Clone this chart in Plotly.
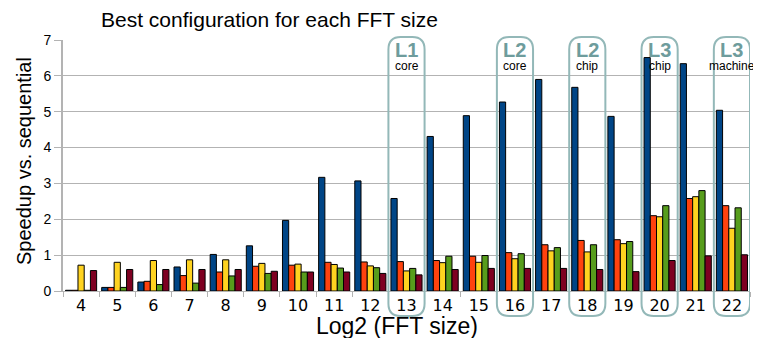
import plotly.graph_objects as go

fft_log2 = list(range(4, 23))
tick_labels = [str(v) for v in fft_log2]

series_blue = [0.02, 0.10, 0.25, 0.67, 1.02, 1.26, 1.97, 3.17, 3.07, 2.58, 4.31, 4.89, 5.27, 5.90, 5.68, 4.87, 6.51, 6.34, 5.04]
series_orange = [0.02, 0.10, 0.27, 0.43, 0.53, 0.69, 0.72, 0.80, 0.81, 0.82, 0.85, 0.97, 1.07, 1.29, 1.41, 1.43, 2.10, 2.58, 2.38]
series_yellow = [0.72, 0.80, 0.85, 0.87, 0.87, 0.77, 0.75, 0.74, 0.70, 0.56, 0.79, 0.80, 0.90, 1.12, 1.09, 1.32, 2.07, 2.63, 1.75]
series_green = [0.02, 0.10, 0.18, 0.22, 0.42, 0.49, 0.53, 0.64, 0.65, 0.63, 0.97, 0.99, 1.04, 1.21, 1.29, 1.38, 2.38, 2.80, 2.32]
series_red = [0.57, 0.60, 0.60, 0.60, 0.60, 0.55, 0.53, 0.53, 0.49, 0.45, 0.60, 0.63, 0.63, 0.63, 0.60, 0.54, 0.85, 0.98, 1.01]

series = [
    ("Series 1", series_blue, "#004586"),
    ("Series 2", series_orange, "#ff420e"),
    ("Series 3", series_yellow, "#ffd320"),
    ("Series 4", series_green, "#579d1c"),
    ("Series 5", series_red, "#7e0021"),
]

highlight_sizes = [13, 16, 18, 20, 22]
highlight_level = ["L1", "L2", "L2", "L3", "L3"]
highlight_scope = ["core", "core", "chip", "chip", "machine"]

fig = go.Figure()
for name, vals, col in series:
    fig.add_trace(go.Bar(
        x=fft_log2, y=vals, name=name,
        marker=dict(color=col, line=dict(color="black", width=1)),
        showlegend=False,
    ))

# page has an 8px body margin; figure is sized so the plot lands where the reference has it
OFF = 8
W, H = 761 - OFF, 338 - OFF
L, T, R, B = 63 - OFF, 40 - OFF, 11, 47
PW, PH = W - L - R, H - T - B

BOX = "#93b8b8"
LBL = "#6e9c9c"
y_top, y_bot = 1.012, -0.1
rx, ry = 0.34, 0.05
for c, lev, scope in zip(highlight_sizes, highlight_level, highlight_scope):
    x0, x1 = c - 0.5, c + 0.5
    path = (f"M {x0+rx},{y_top} L {x1-rx},{y_top} Q {x1},{y_top} {x1},{y_top-ry} "
            f"L {x1},{y_bot+ry} Q {x1},{y_bot} {x1-rx},{y_bot} "
            f"L {x0+rx},{y_bot} Q {x0},{y_bot} {x0},{y_bot+ry} "
            f"L {x0},{y_top-ry} Q {x0},{y_top} {x0+rx},{y_top} Z")
    fig.add_shape(type="path", path=path, xref="x", yref="paper",
                  line=dict(color=BOX, width=2), layer="above")
    fig.add_annotation(x=c, y=0.962, xref="x", yref="paper", text=f"<b>{lev}</b>",
                       showarrow=False, yanchor="middle",
                       font=dict(family="Liberation Sans", size=20, color=LBL))
    fig.add_annotation(x=c, y=0.898, xref="x", yref="paper", text=scope,
                       showarrow=False, yanchor="middle",
                       font=dict(family="Liberation Sans", size=12, color="black"))

fig.add_annotation(x=(99 - 63) / PW, y=(291 - 19) / PH, xref="paper", yref="paper",
                   text="Best configuration for each FFT size", showarrow=False,
                   xanchor="left", yanchor="middle",
                   font=dict(family="Liberation Sans", size=21, color="black"))
fig.add_annotation(x=(397 - 63) / PW, y=(291 - 326) / PH, xref="paper", yref="paper",
                   text="Log2 (FFT size)", showarrow=False, xanchor="center", yanchor="middle",
                   font=dict(family="Liberation Sans", size=23, color="black"))
fig.add_annotation(x=(24 - 63) / PW, y=(291 - 161) / PH, xref="paper", yref="paper",
                   text="Speedup vs. sequential", showarrow=False, textangle=-90,
                   xanchor="center", yanchor="middle",
                   font=dict(family="Liberation Sans", size=20, color="black"))

fig.update_layout(
    width=W, height=H,
    margin=dict(l=L, r=R, t=T, b=B, pad=0),
    paper_bgcolor="white", plot_bgcolor="white",
    barmode="group", bargap=0.14, bargroupgap=0,
    xaxis=dict(
        range=[3.5, 22.5], tickmode="array", tickvals=fft_log2, ticktext=tick_labels,
        ticks="", showgrid=False, showline=True, linecolor="#b3b3b3", linewidth=1,
        tickfont=dict(family="DejaVu Sans", size=16, color="black"),
        minor=dict(tickmode="array", tickvals=[v - 0.5 for v in fft_log2] + [22.5],
                   ticks="outside", ticklen=5, tickcolor="#b3b3b3", tickwidth=1, showgrid=False),
        zeroline=False,
    ),
    yaxis=dict(
        range=[0, 7], dtick=1, showgrid=True, gridcolor="#b3b3b3", gridwidth=1,
        showline=True, linecolor="#b3b3b3", linewidth=2,
        ticks="outside", ticklen=7, tickcolor="#b3b3b3",
        tickfont=dict(family="Liberation Sans", size=14, color="black"),
        zeroline=False,
    ),
)

fig.write_html("out.html")
